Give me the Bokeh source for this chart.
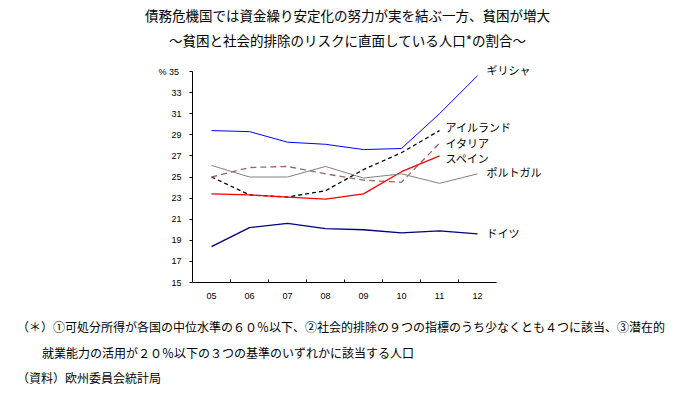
from bokeh.plotting import figure
from bokeh.models import Range1d, FixedTicker, Label, Div
from bokeh.layouts import column
from bokeh.embed import file_html
from bokeh.resources import INLINE

years = ["05", "06", "07", "08", "09", "10", "11", "12"]
greece = [29.4, 29.3, 28.3, 28.1, 27.6, 27.7, 31.0, 34.6]
ireland = [25.0, 23.3, 23.1, 23.7, 25.7, 27.3, 29.4]
italy = [25.0, 25.9, 26.0, 25.3, 24.7, 24.5, 28.2]
spain = [23.4, 23.3, 23.1, 22.9, 23.4, 25.5, 27.0]
portugal = [26.1, 25.0, 25.0, 26.0, 24.9, 25.3, 24.4, 25.3]
germany = [18.4, 20.2, 20.6, 20.1, 20.0, 19.7, 19.9, 19.6]
y_ticks = [15, 17, 19, 21, 23, 25, 27, 29, 31, 33, 35]
unit = "%"

title1 = "債務危機国では資金繰り安定化の努力が実を結ぶ一方、貧困が増大"
title2 = "～貧困と社会的排除のリスクに直面している人口*の割合～"
note1 = "（＊）①可処分所得が各国の中位水準の６０％以下、②社会的排除の９つの指標のうち少なくとも４つに該当、③潜在的"
note2 = "就業能力の活用が２０％以下の３つの基準のいずれかに該当する人口"
note3 = "（資料）欧州委員会統計局"

FONT = "Noto Sans CJK JP"
W = 695
TOP_H = 56          # title block height
FIG_H = 254         # figure height
BOT_H = 84          # footnote block height
# frame in page pixels
PL, PR, PT, PB = 192, 560, 60, 282
PX_PER_UNIT = (PB - 71) / 20.0   # 35 sits at page y 71
n = len(years)
step = 38.0

top = Div(text=(f'<div style="font-family:\'{FONT}\';font-size:13.5px;line-height:25px;'
                f'text-align:center;color:black;padding-top:3px;width:{W}px;">'
                f'{title1}<br>{title2}</div>'),
          width=W, height=TOP_H, margin=0)

p = figure(width=W, height=FIG_H, output_backend="svg", toolbar_location=None,
           x_range=Range1d(0, (PR - PL) / step),
           y_range=Range1d(15, 35 + (71 - PT) / PX_PER_UNIT),
           min_border_left=PL, min_border_right=W - PR,
           min_border_top=PT - TOP_H, min_border_bottom=TOP_H + FIG_H - PB,
           margin=0)
p.outline_line_color = None
p.grid.grid_line_color = None
p.background_fill_color = "white"
p.border_fill_color = "white"

centers = [i + 0.5 for i in range(n)]
p.xaxis.bounds = (0, n)
p.xaxis.ticker = FixedTicker(ticks=centers, minor_ticks=list(range(1, n)))
p.xaxis.major_label_overrides = {c: y for c, y in zip(centers, years)}
p.xaxis.major_tick_in = 0
p.xaxis.major_tick_out = 0
p.xaxis.minor_tick_in = 3
p.xaxis.minor_tick_out = 0
p.xaxis.major_label_standoff = 10
p.yaxis.bounds = (15, 35)
p.yaxis.ticker = FixedTicker(ticks=y_ticks)
p.yaxis.major_label_overrides = {35: f"{unit}  35"}
p.yaxis.major_tick_in = 0
p.yaxis.major_tick_out = 3
p.yaxis.major_label_standoff = 8
for ax in (p.xaxis, p.yaxis):
    ax.axis_line_color = "black"
    ax.major_tick_line_color = "black"
    ax.minor_tick_line_color = "black"
    ax.major_label_text_font = "Liberation Sans"
    ax.major_label_text_font_size = "9px"
    ax.major_label_text_color = "black"
p.yaxis.minor_tick_line_color = None


def xs(vals):
    return centers[:len(vals)]


p.line(xs(greece), greece, line_color="#0000FF", line_width=1)
p.line(xs(ireland), ireland, line_color="black", line_width=1.3, line_dash="4 3")
p.line(xs(italy), italy, line_color="#996666", line_width=1.3, line_dash="6 4")
p.line(xs(spain), spain, line_color="#FF0000", line_width=1.3)
p.line(xs(portugal), portugal, line_color="#808080", line_width=1)
p.line(xs(germany), germany, line_color="#000080", line_width=1.3)


def page_label(text, px, py, size="11px"):
    # page coordinates -> frame-relative screen units
    p.add_layout(Label(x=px - PL, y=PB - py, x_units="screen", y_units="screen",
                       text=text, text_font=FONT, text_font_size=size,
                       text_align="left", text_baseline="middle", text_color="black"))


page_label("ギリシャ", 486, 69)
page_label("アイルランド", 445, 126)
page_label("イタリア", 445, 142)
page_label("スペイン", 445, 157)
page_label("ポルトガル", 486, 171)
page_label("ドイツ", 486, 232)

bottom = Div(text=(f'<div style="font-family:\'{FONT}\';font-size:12px;line-height:25.5px;'
                   f'color:black;padding-top:4px;white-space:nowrap;">'
                   f'<div style="padding-left:17px;">{note1}</div>'
                   f'<div style="padding-left:42px;">{note2}</div>'
                   f'<div style="padding-left:17px;">{note3}</div></div>'),
             width=W, height=BOT_H, margin=0)

layout = column(top, p, bottom, spacing=0, margin=0)
open("out.html", "w").write(file_html(layout, INLINE))
